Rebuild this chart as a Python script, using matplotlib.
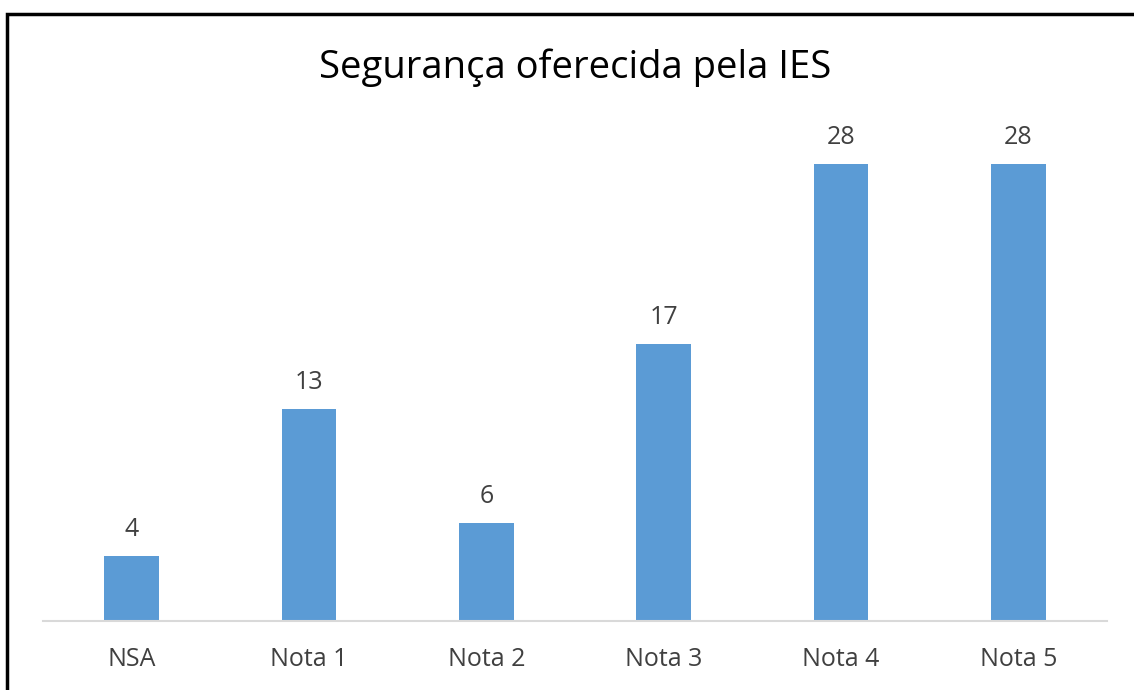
import matplotlib.pyplot as plt
from matplotlib.patches import Rectangle

categories = ["NSA", "Nota 1", "Nota 2", "Nota 3", "Nota 4", "Nota 5"]
values = [4, 13, 6, 17, 28, 28]

W, H = 1134, 690
fig = plt.figure(figsize=(W / 100, H / 100), dpi=100)
plt.rcParams["font.family"] = ["Open Sans", "DejaVu Sans"]

# axes placed to match the reference pixel positions
ax = fig.add_axes([43 / W, (H - 621) / H, (1107 - 43) / W, (621 - 131.4) / H])
x = range(len(categories))
bars = ax.bar(x, values, width=0.31, color="#5B9BD5")
ax.set_xlim(-0.5, len(categories) - 0.5)
ax.set_ylim(0, 30)

for rect, v in zip(bars, values):
    ax.annotate(str(v), (rect.get_x() + rect.get_width() / 2, v),
                xytext=(0, 10), textcoords="offset points",
                ha="center", va="bottom", fontsize=18, color="#404040")

ax.set_xticks(list(x))
ax.set_xticklabels(categories, fontsize=18, color="#404040")
ax.tick_params(axis="x", length=0, pad=19)
ax.set_yticks([])
for s in ["top", "right", "left"]:
    ax.spines[s].set_visible(False)
ax.spines["bottom"].set_color("#D9D9D9")
ax.spines["bottom"].set_linewidth(1.5)

fig.text(575 / W, 1 - 68 / H, "Segurança oferecida pela IES", ha="center",
         va="center", fontsize=27.5, color="#000000")

# outer frame, cropped at right and bottom like the reference
fig.patches.append(Rectangle((7 / W, -0.1), 1.2, 1 - 14 / H + 0.1,
                             transform=fig.transFigure, fill=False,
                             edgecolor="black", linewidth=2.5))

fig.savefig("out.png", dpi=100)
